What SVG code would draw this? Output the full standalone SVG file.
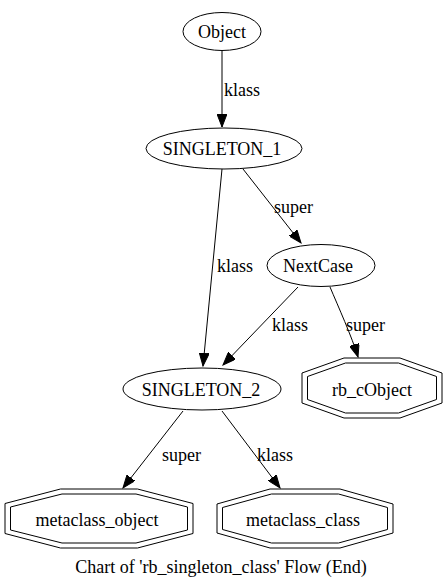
<svg xmlns="http://www.w3.org/2000/svg" width="447" height="586" viewBox="0 0 447 586" font-family="'Liberation Serif', 'Times New Roman', serif">
<style>
text{font-family:"Liberation Serif","Times New Roman",serif;font-size:18px;fill:#000}
.n{fill:#fff;stroke:#000;stroke-width:1}
.c{text-anchor:middle}
.e{fill:none;stroke:#000;stroke-width:1;marker-end:url(#ah)}
</style>
<defs>
<marker id="ah" markerUnits="userSpaceOnUse" markerWidth="14" markerHeight="10" refX="13" refY="5" orient="auto">
<path d="M0,0 L13,5 L0,10 z" fill="#000" stroke="#000" stroke-width="1"/>
</marker>
</defs>
<rect width="447" height="586" fill="#fff"/>
<g id="connectors">
<path class="e" d="M222,51 L222,127"/>
<path class="e" d="M222,169 L203,366"/>
<path class="e" d="M243,169 L301,243"/>
<path class="e" d="M298,287 L223,365"/>
<path class="e" d="M330,287 C338,306 352,337 358,357"/>
<path class="e" d="M183,411 L123,488"/>
<path class="e" d="M222,411 L280,488"/>
<text x="224" y="96">klass</text>
<text x="217" y="272">klass</text>
<text x="274" y="213">super</text>
<text x="272" y="331">klass</text>
<text x="346" y="331">super</text>
<text x="162" y="461">super</text>
<text x="257" y="461">klass</text>
</g>
<g id="Object">
<ellipse class="n" cx="222" cy="31.5" rx="39" ry="19"/>
<text class="c" x="222" y="38">Object</text>
</g>
<g id="SINGLETON_1">
<ellipse class="n" cx="224" cy="148.5" rx="78" ry="20.5"/>
<text class="c" x="222" y="155">SINGLETON_1</text>
</g>
<g id="NextCase">
<ellipse class="n" cx="321" cy="265.5" rx="54" ry="21"/>
<text class="c" x="318" y="272">NextCase</text>
</g>
<g id="SINGLETON_2">
<ellipse class="n" cx="202" cy="389" rx="79" ry="21"/>
<text class="c" x="201" y="396">SINGLETON_2</text>
</g>
<g id="rb_cObject">
<polygon class="n" points="344,358 400,358 442,373 442,403 400,418 344,418 302,403 302,373"/>
<polygon class="n" points="345.5,363 398.5,363 436.5,376.5 436.5,399.5 398.5,413 345.5,413 307.5,399.5 307.5,376.5"/>
<text class="c" x="372" y="396">rb_cObject</text>
</g>
<g id="metaclass_object">
<polygon class="n" points="60.5,489 137.5,489 193,503.5 193,533.5 137.5,548 60.5,548 5,533.5 5,503.5"/>
<polygon class="n" points="62,494 136,494 187.5,507 187.5,530 136,543 62,543 10.5,530 10.5,507"/>
<text class="c" x="97" y="526">metaclass_object</text>
</g>
<g id="metaclass_class">
<polygon class="n" points="270,489 340,489 393,504 393,533 340,548 270,548 217,533 217,504"/>
<polygon class="n" points="271.5,494 338.5,494 387.5,507.5 387.5,529.5 338.5,543 271.5,543 222.5,529.5 222.5,507.5"/>
<text class="c" x="303" y="526">metaclass_class</text>
</g>
<text class="c" x="221" y="573">Chart of 'rb_singleton_class' Flow (End)</text>
</svg>
